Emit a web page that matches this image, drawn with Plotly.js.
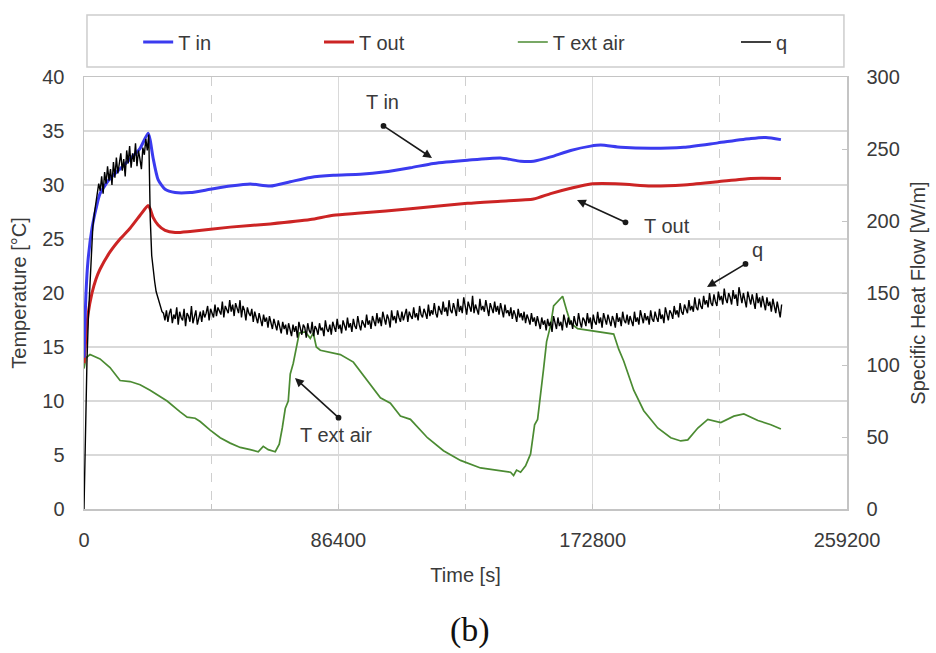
<!DOCTYPE html>
<html>
<head>
<meta charset="utf-8">
<script src="https://cdn.plot.ly/plotly-3.0.1.min.js"></script>
<style>
  html, body { margin: 0; padding: 0; background: #ffffff; }
  #chart { width: 936px; height: 653px; }
</style>
</head>
<body>
<div id="chart"></div>
<script>
// Pipe inlet temperature [°C]
const tInTime = [0, 680, 1360, 2720, 4080, 5440, 8840, 12250, 15650, 19050, 21770, 22450, 23470, 25170, 27550,
  30950, 36060, 42860, 49660, 56470, 63270, 70070, 76880, 84700, 93880, 101710, 110890, 118720, 130280,
  141510, 148310, 152730, 158510, 165320, 172120, 175520, 182330, 192530, 203760, 215320, 226550, 231650, 236750];
const tInVals = [14, 20, 23, 26, 27.8, 29.2, 30.6, 31.5, 32.4, 33.4, 34.8, 34.2, 32.5, 30.5, 29.6,
  29.3, 29.3, 29.6, 29.9, 30.1, 29.9, 30.3, 30.7, 30.9, 31.0, 31.2, 31.6, 32.0, 32.3,
  32.5, 32.2, 32.2, 32.6, 33.2, 33.6, 33.7, 33.5, 33.4, 33.5, 33.9, 34.3, 34.4, 34.2];

// Pipe outlet temperature [°C]
const tOutTime = [0, 680, 1360, 2720, 4080, 5440, 8840, 12250, 15650, 19050, 21770, 22450, 23470, 25170, 27550,
  30950, 36060, 49660, 63270, 76880, 84700, 93880, 110890, 130280, 141510, 152730, 158510, 165320, 172120,
  182330, 192530, 203760, 215320, 226550, 236750];
const tOutVals = [13.5, 16, 18, 20, 21.3, 22.2, 23.8, 25, 26, 27.2, 28.1, 27.8, 27, 26.3, 25.8,
  25.6, 25.7, 26.1, 26.4, 26.8, 27.2, 27.4, 27.8, 28.3, 28.5, 28.7, 29.2, 29.7, 30.1,
  30.1, 29.9, 30.0, 30.3, 30.6, 30.6];

// External air temperature [°C]
const tExtTime = [0, 680, 2040, 5440, 8840, 12250, 15650, 19050, 22450, 28230, 32660, 35040, 37760, 39460,
  42860, 46260, 49660, 53070, 56470, 59190, 60890, 62590, 64970, 66330, 67350, 68370, 69390, 70070, 71090,
  72110, 73130, 75170, 76880, 77900, 78920, 80280, 87080, 91500, 96270, 100690, 104090, 107490, 110890,
  116670, 122120, 127900, 134700, 141510, 144910, 145930, 146950, 148310, 150010, 151710, 153070, 154090,
  155110, 156130, 157150, 158510, 159530, 161230, 162590, 163950, 165320, 167700, 172120, 177220, 179940,
  181640, 183340, 186750, 190150, 194910, 199330, 202730, 205110, 208520, 211920, 216340, 220760, 224160,
  228930, 233350, 236750];
const tExtVals = [13.0, 14.0, 14.3, 13.9, 13.1, 11.9, 11.8, 11.5, 11.0, 10.0, 9.0, 8.5, 8.4, 8.1,
  7.3, 6.6, 6.1, 5.7, 5.5, 5.3, 5.8, 5.5, 5.3, 6.0, 7.5, 9.3, 10.0, 12.5, 13.5,
  15.0, 16.3, 16.4, 15.8, 16.3, 15.0, 14.7, 14.3, 13.6, 11.9, 10.3, 9.8, 8.6, 8.3,
  6.6, 5.4, 4.5, 3.8, 3.5, 3.4, 3.1, 3.6, 3.4, 4.0, 5.1, 7.8, 8.3,
  10.5, 13.0, 15.5, 17.0, 18.8, 19.3, 19.7, 18.4, 17.2, 16.7, 16.5, 16.3, 16.2,
  14.8, 13.7, 11.0, 9.1, 7.5, 6.6, 6.3, 6.4, 7.5, 8.3, 8.0, 8.6, 8.8,
  8.2, 7.8, 7.4];

// Specific heat flow [W/m], logged every 500 s
const qStep = 500;
const qVals = [
  0, 60, 102, 134, 158, 178, 196, 205, 212, 219,
  226, 221, 231, 219, 234, 226, 238, 228, 236, 225,
  241, 230, 244, 233, 239, 247, 235, 243, 231, 249,
  240, 252, 237, 247, 241, 254, 238, 249, 243, 236,
  251, 246, 257, 249, 260, 202, 176, 165, 158, 151,
  147, 143, 140, 137, 136, 131, 138, 130, 136, 139,
  129, 135, 132, 140, 128, 137, 133, 131, 139, 127,
  136, 134, 130, 141, 129, 135, 138, 128, 134, 137,
  130, 138, 133, 136, 141, 131, 139, 135, 133, 142,
  134, 140, 137, 135, 144, 133, 141, 138, 136, 145,
  137, 142, 134, 143, 139, 136, 145, 133, 141, 138,
  131, 140, 136, 134, 139, 130, 137, 133, 129, 136,
  131, 127, 135, 130, 133, 126, 134, 129, 125, 132,
  128, 124, 131, 126, 122, 130, 125, 128, 121, 129,
  125, 120, 128, 123, 127, 119, 130, 124, 121, 128,
  126, 119, 129, 124, 122, 130, 120, 127, 125, 121,
  129, 124, 126, 120, 131, 125, 123, 128, 121, 130,
  126, 123, 132, 125, 128, 122, 131, 127, 124, 133,
  126, 129, 123, 132, 127, 125, 134, 128, 124, 131,
  129, 126, 135, 128, 131, 125, 134, 130, 127, 136,
  129, 133, 127, 137, 131, 128, 135, 132, 126, 138,
  131, 134, 129, 138, 133, 130, 137, 131, 135, 139,
  130, 137, 134, 132, 140, 133, 136, 131, 141, 135,
  133, 139, 136, 132, 142, 134, 138, 135, 143, 136,
  133, 141, 138, 135, 144, 137, 140, 134, 145, 138,
  136, 143, 139, 134, 146, 137, 141, 136, 147, 139,
  135, 144, 140, 137, 148, 136, 142, 139, 135, 146,
  138, 141, 137, 145, 139, 134, 143, 140, 136, 144,
  137, 141, 135, 143, 139, 133, 142, 136, 138, 134,
  140, 132, 138, 135, 130, 139, 133, 136, 131, 137,
  129, 135, 132, 128, 136, 130, 133, 127, 134, 129,
  125, 133, 128, 131, 124, 132, 127, 130, 123, 134,
  128, 125, 133, 127, 130, 124, 135, 129, 126, 133,
  128, 131, 125, 134, 129, 127, 136, 130, 126, 133,
  131, 127, 136, 129, 133, 125, 135, 130, 128, 137,
  129, 133, 126, 136, 131, 128, 135, 130, 127, 134,
  131, 126, 136, 130, 133, 127, 137, 131, 129, 135,
  128, 134, 131, 127, 137, 130, 133, 128, 138, 132,
  129, 136, 131, 134, 128, 138, 132, 130, 137, 133,
  130, 139, 132, 135, 129, 140, 134, 131, 138, 136,
  132, 141, 135, 138, 133, 143, 137, 135, 142, 139,
  136, 145, 138, 141, 137, 147, 140, 138, 146, 141,
  139, 148, 142, 145, 140, 150, 143, 141, 149, 144,
  141, 151, 145, 148, 142, 153, 146, 143, 150, 147,
  142, 152, 146, 149, 141, 154, 147, 143, 150, 145,
  140, 151, 146, 142, 149, 144, 139, 150, 143, 147,
  140, 148, 143, 138, 147, 141, 144, 137, 146, 140,
  136, 144, 138, 133, 142];
const qTime = qVals.map((_, i) => i * qStep);

const xTicks = [0, 86400, 172800, 259200];

const FONT = 'Liberation Sans, Arial, sans-serif';
const TXT = '#3a3a3a';
const GRID = '#d9d9d9';
const FRAME = '#c4c4c4';

const traces = [
  { x: tExtTime, y: tExtVals, name: 'T ext air', type: 'scatter', mode: 'lines',
    line: { color: '#4b8b32', width: 1.7 }, legend: 'legend3' },
  { x: tOutTime, y: tOutVals, name: 'T out', type: 'scatter', mode: 'lines',
    line: { color: '#cc2424', width: 3, shape: 'spline', smoothing: 0.6 }, legend: 'legend2' },
  { x: tInTime, y: tInVals, name: 'T in', type: 'scatter', mode: 'lines',
    line: { color: '#3b3bef', width: 3, shape: 'spline', smoothing: 0.6 }, legend: 'legend' },
  { x: qTime, y: qVals, name: 'q', type: 'scatter', mode: 'lines', yaxis: 'y2',
    line: { color: '#000000', width: 1.4 }, legend: 'legend4' }
];

const legendBase = {
  orientation: 'h', yanchor: 'middle', y: 1.081, xanchor: 'left',
  font: { family: FONT, size: 20, color: TXT }, bgcolor: 'rgba(0,0,0,0)', borderwidth: 0
};

function arrow(x, y, ax, ay) {
  return { x: x, y: y, ax: ax, ay: ay, xref: 'x', yref: 'y', axref: 'x', ayref: 'y',
    text: '', showarrow: true, arrowhead: 2, arrowsize: 1.1, arrowwidth: 1.6, arrowcolor: '#1a1a1a',
    startarrowhead: 6, startarrowsize: 0.9, arrowside: 'end+start', standoff: 0, startstandoff: 0 };
}
function label(x, y, t) {
  return { x: x, y: y, xref: 'x', yref: 'y', text: t, showarrow: false,
    font: { family: FONT, size: 20, color: TXT } };
}

const layout = {
  width: 936, height: 653,
  paper_bgcolor: '#ffffff', plot_bgcolor: '#ffffff',
  margin: { l: 84, r: 89, t: 77, b: 144 },
  font: { family: FONT, size: 20, color: TXT },
  showlegend: true,
  legend: Object.assign({}, legendBase, { x: 0.071 }),
  legend2: Object.assign({}, legendBase, { x: 0.308 }),
  legend3: Object.assign({}, legendBase, { x: 0.562 }),
  legend4: Object.assign({}, legendBase, { x: 0.8545 }),
  xaxis: {
    range: [0, 259200], tickmode: 'array', tickvals: xTicks, tickformat: 'd',
    showgrid: true, gridcolor: GRID, gridwidth: 1,
    minor: { tickmode: 'linear', tick0: 0, dtick: 43200, showgrid: true, griddash: 'dash',
             gridcolor: '#cfcfcf', ticks: 'inside', ticklen: 5, tickcolor: FRAME },
    ticks: 'inside', ticklen: 5, tickcolor: FRAME,
    showline: true, mirror: true, linecolor: FRAME, linewidth: 1.5, zeroline: false,
    ticklabelstandoff: 12,
    tickfont: { family: FONT, size: 20, color: TXT },
    title: { text: 'Time [s]', standoff: 18, font: { family: FONT, size: 20, color: TXT } }
  },
  yaxis: {
    range: [0, 40], dtick: 5, tick0: 0,
    showgrid: true, gridcolor: GRID, gridwidth: 1.2,
    showline: true, mirror: true, linecolor: FRAME, linewidth: 1.5, zeroline: false,
    ticks: '', ticklabelstandoff: 14,
    tickfont: { family: FONT, size: 20, color: TXT },
    title: { text: 'Temperature [°C]', standoff: 10, font: { family: FONT, size: 20, color: TXT } }
  },
  yaxis2: {
    overlaying: 'y', side: 'right', range: [0, 300], dtick: 50, tick0: 0,
    showgrid: false, zeroline: false,
    showline: true, linecolor: FRAME, linewidth: 1.5,
    ticks: 'inside', ticklen: 5, tickcolor: FRAME, ticklabelstandoff: 14,
    tickfont: { family: FONT, size: 20, color: TXT },
    title: { text: 'Specific Heat Flow [W/m]', standoff: 12, font: { family: FONT, size: 20, color: TXT } }
  },
  shapes: [
    { type: 'rect', xref: 'paper', yref: 'paper', x0: 0.0039, x1: 0.996, y0: 1.0231, y1: 1.1435,
      line: { color: '#cdcdcd', width: 1.5 }, fillcolor: 'rgba(0,0,0,0)' }
  ],
  annotations: [
    arrow(118220, 32.5, 101233, 35.56), label(101400, 37.7, 'T in'),
    arrow(167480, 28.6, 184460, 26.48), label(198050, 26.2, 'T out'),
    arrow(211640, 20.56, 225230, 22.78), label(228630, 24.0, 'q'),
    arrow(71680, 12.13, 86970, 8.33), label(85600, 6.85, 'T ext air'),
    { xref: 'paper', yref: 'paper', x: 0.506, y: -0.28, yanchor: 'middle', text: '(b)', showarrow: false,
      font: { family: 'Liberation Serif, Times New Roman, serif', size: 34, color: '#111111' } }
  ]
};

Plotly.newPlot('chart', traces, layout, { displayModeBar: false, staticPlot: true });
</script>
</body>
</html>
